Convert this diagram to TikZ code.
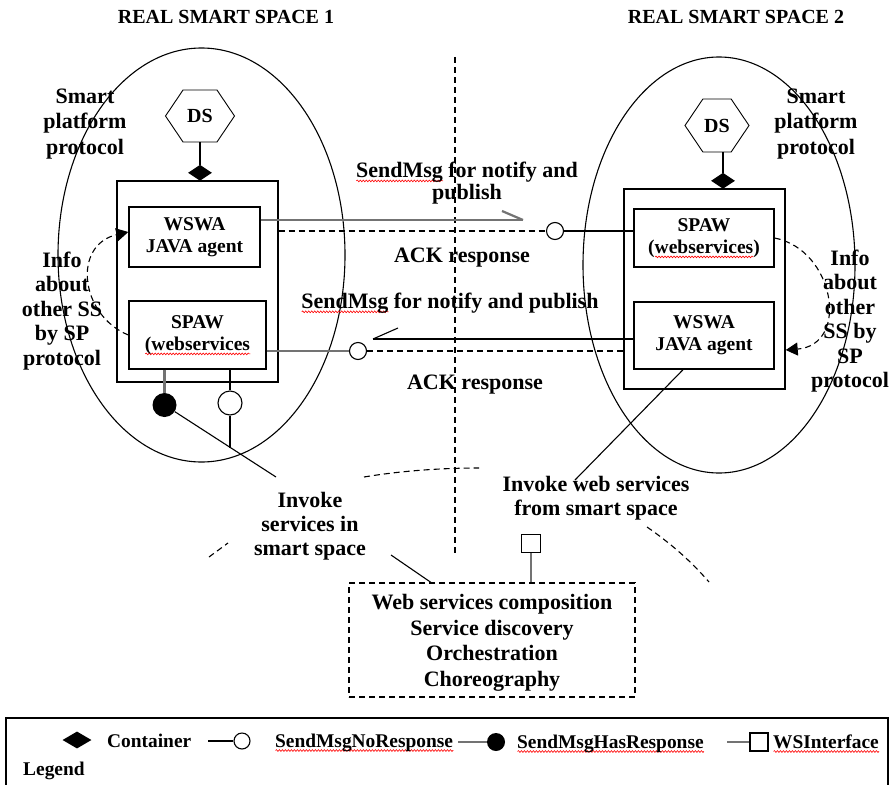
\documentclass[tikz,border=0pt]{standalone}
\usepackage{fontspec}
\setmainfont{Liberation Serif}
\usetikzlibrary{shapes.geometric,shapes.symbols,arrows.meta,calc,decorations.pathmorphing}
% red wavy underline, as a spell checker marks a word
\newsavebox\spellbox
\newlength\spellw
\newcommand\spell[1]{\sbox\spellbox{#1}\setlength\spellw{\wd\spellbox}\leavevmode
  \rlap{\smash{\tikz[baseline=0pt,x=1pt,y=1pt]\draw[red, line width=0.6pt, solid,
    decorate, decoration={snake, amplitude=0.9pt, segment length=3pt}]
    (0,-3.5) -- (\spellw,-3.5);}}\usebox\spellbox}
\newcommand\fsz[2]{\fontsize{#1}{#2}\selectfont\bfseries}

\tikzset{
  ttl/.style={font=\fsz{20}{24}, inner sep=0},
  lbl/.style={font=\fsz{22}{24.5}, align=center, inner sep=0},
  boxed/.style={draw, line width=1.4pt, align=center, inner sep=0, font=\fsz{19.5}{22}},
  cont/.style={draw, line width=1.4pt, inner sep=0},
  hexa/.style={signal, signal to=east and west, signal pointer angle=112, draw,
    line width=0.9pt, inner sep=0, minimum width=69pt, minimum height=52pt, font=\fsz{20}{22}},
  dmd/.style={diamond, fill=black, inner sep=0, minimum width=24pt, minimum height=16pt},
  ocirc/.style={circle, draw, line width=1.1pt, fill=white, inner sep=0, minimum size=17pt},
  fcirc/.style={circle, fill=black, inner sep=0, minimum size=24pt},
  gline/.style={draw=black!55, line width=2.2pt},
  wire/.style={line width=1.1pt},
  dline/.style={dash pattern=on 6pt off 4pt, line width=1.1pt},
  legtxt/.style={font=\fsz{19.4}{22}, inner sep=0, anchor=base west},
  tipA/.style={-{Triangle[length=12pt,width=13pt]}},
}

\begin{document}
\begin{tikzpicture}[x=1pt,y=-1pt]
\useasboundingbox (0,0) rectangle (893,784);
\fill[white] (0,0) rectangle (893,784);

% titles of the two smart spaces
\node[ttl,anchor=base] (t1) at (226,24) {REAL SMART SPACE 1};
\node[ttl,anchor=base] (t2) at (736,24) {REAL SMART SPACE 2};

% smart space boundaries
\draw[line width=1.1pt] (201.5,255) ellipse [x radius=143.5, y radius=207];
\draw[line width=1.1pt] (719,265) ellipse [x radius=136, y radius=208];

% divider between the spaces
\draw[dline, line width=1.2pt] (455,57) -- (455,553);

% outer dashed region around the composition layer
\draw[dline] (364,477) .. controls (400,471) and (440,468) .. (479,468);
\draw[dline] (209,557) -- (228,543);
\draw[dline] (647,527) .. controls (670,543) and (690,560) .. (709,582);

% containers and agents
\node[cont, minimum width=161pt, minimum height=201pt] (c1) at (197.5,281.5) {};
\node[cont, minimum width=161pt, minimum height=200pt] (c2) at (704.5,289) {};

\node[boxed, minimum width=131pt, minimum height=60pt] (wswaL) at (194.5,237) {WSWA\\JAVA agent};
\node[boxed, minimum width=137pt, minimum height=68pt] (spawL) at (197.5,335) {SPAW\\\spell{(webservices}};
\node[boxed, minimum width=140pt, minimum height=58pt] (spawR) at (704,238) {SPAW\\(\spell{webservices})};
\node[boxed, minimum width=140pt, minimum height=67pt] (wswaR) at (704,335.5) {WSWA\\JAVA agent};

% directory services
\node[hexa] (ds1) at (200,116) {DS};
\node[hexa, minimum width=64pt, minimum height=53pt] (ds2) at (717,125.5) {DS};
\node[dmd, anchor=south] (dm1) at (200,181) {};
\node[dmd, anchor=south] (dm2) at (723,189) {};
\draw[wire] (ds1.south) -- (dm1.north);
\draw[wire] (dm2.north |- ds2.south) -- (dm2.north);

% side labels
\node[lbl, font=\fsz{22}{25.5}] (spL) at (85,124) {Smart\\platform\\protocol};
\node[lbl, font=\fsz{22}{25.5}] (spR) at (816,124) {Smart\\platform\\protocol};
\node[lbl] (infoL) at (62,311) {Info\\about\\other SS\\by SP\\protocol};
\node[lbl] (infoR) at (850,321) {Info\\about\\other\\SS by\\SP\\protocol};

% info exchanged by the smart platform protocol
\draw[dline, tipA] (spawL.west) .. controls (80,315) and (72,245) .. ([yshift=5pt]wswaL.west);
\draw[dline, tipA] (spawR.east) .. controls (835,250) and (850,345) .. ([yshift=-61pt]c2.east);

% messages between the spaces
\node[lbl, font=\fsz{22}{22}] (send1) at (467,183) {\spell{SendMsg} for notify and\\publish};
\node[lbl] (ack1) at (462,258) {ACK response};
\node[lbl] (send2) at (450,303) {\spell{SendMsg} for notify and publish};
\node[lbl] (ack2) at (475,385) {ACK response};

\node[ocirc] (oc1) at (555,231) {};
\node[ocirc] (oc2) at (358,351) {};
\coordinate (tip1) at (523,220);
\coordinate (tip2) at (373,339);

\draw[gline] ([yshift=17pt]wswaL.east) -- (tip1);
\draw[gline] (tip1) -- ++(-21,-9);
\draw[dline] (c1.east |- oc1) -- (oc1.west);
\draw[wire] (oc1.east) -- (spawR.west |- oc1);

\draw[wire] (wswaR.west |- tip2) -- (tip2);
\draw[wire] (tip2) -- ++(25,-11);
\draw[gline] (spawL.east |- oc2) -- (oc2.west);
\draw[dline] (oc2.east) -- (c2.west |- oc2);

% service interfaces of the left agent
\node[fcirc] (fc) at (164.5,405) {};
\node[ocirc, minimum size=24pt] (oc3) at (230,403) {};
\draw[gline] (spawL.south -| fc) -- (fc.north);
\draw[wire] (spawL.south -| oc3) -- (oc3.north);
\coordinate (stem) at (230,448);
\draw[wire] (oc3.south) -- (stem);

% service invocation labels
\node[lbl, font=\fsz{22}{24}] (invL) at (310,526) {Invoke\\services in\\smart space};
\node[lbl, font=\fsz{22}{24}] (invR) at (596,498) {Invoke web services\\from smart space};
\coordinate (invLtop) at (276,477);
\coordinate (invLbot) at (391,555);
\coordinate (invRtop) at (575,480);
\draw[wire] (fc) -- (invLtop);
\draw[wire] ([xshift=-21pt]wswaR.south) -- (invRtop);

% composition layer
\node[draw, dline, inner sep=0, minimum width=286pt, minimum height=114pt] (wsc) at (492,640) {};
\node[lbl, font=\fsz{22}{25.5}] (wsct) at (492,643)
      {Web services composition\\Service discovery\\Orchestration\\Choreography};
\node[draw, wire, fill=white, inner sep=0, minimum width=19pt, minimum height=18pt] (ws) at (531,543.5) {};
\draw[gline] (ws.south) -- (wsc.north -| ws);
\draw[wire] (invLbot) -- (wsc.north -| 431,0);

% legend
\draw[line width=1.4pt] (6,790) -- (6,718) -- (888,718) -- (888,790);
\node[dmd, minimum width=29pt, minimum height=17pt] (ld) at (77,740) {};
\node[legtxt] (lt1) at (107,747) {Container};
\node[ocirc, minimum size=16pt] (lc) at (242,741) {};
\coordinate (lcs) at (208,741);
\draw[wire] (lcs) -- (lc.west);
\node[legtxt] (lt2) at (275,747) {\spell{SendMsgNoResponse}};
\node[fcirc, minimum size=18pt] (lf) at (496,742) {};
\coordinate (lfs) at (458,742);
\draw[gline] (lfs) -- (lf.west);
\node[legtxt] (lt3) at (517,748) {\spell{SendMsgHasResponse}};
\node[draw, wire, inner sep=0, minimum size=18pt] (ls) at (759,742) {};
\coordinate (lss) at (727,742);
\draw[gline] (lss) -- (ls.west);
\node[legtxt] (lt4) at (773,748) {\spell{WSInterface}};
\node[legtxt] (lt5) at (23,775) {Legend};
\end{tikzpicture}
\end{document}
